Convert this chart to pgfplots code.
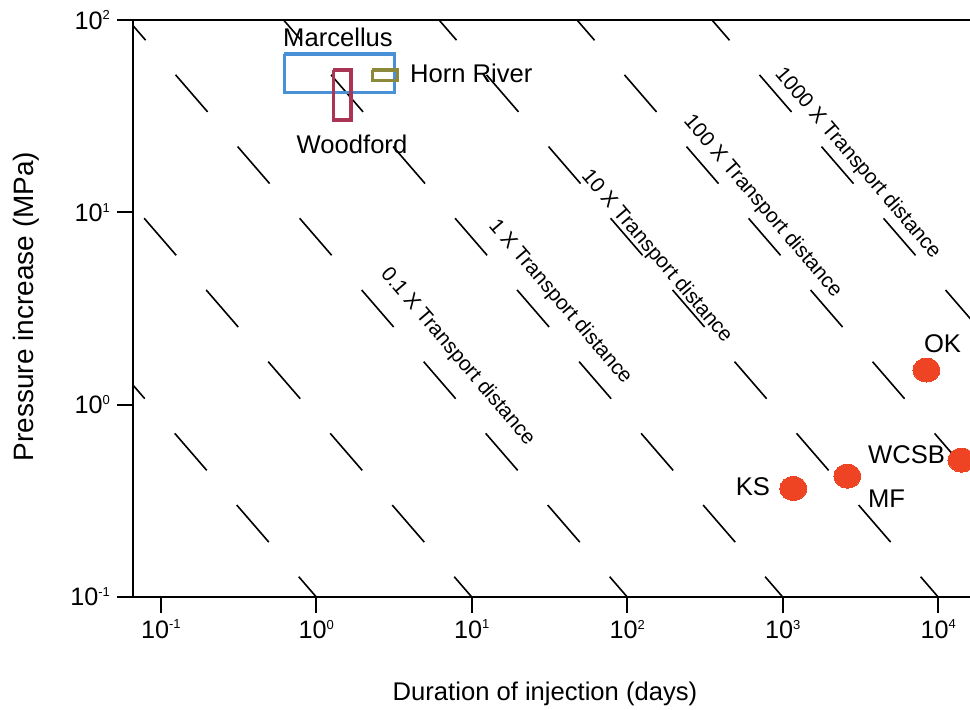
\documentclass[border=0pt]{standalone}
\usepackage{pgfplots}
\pgfplotsset{compat=1.18}
\usepackage{fontspec}
\setmainfont{Liberation Sans}
\definecolor{dotc}{RGB}{238,68,36}
\definecolor{marc}{RGB}{74,144,214}
\definecolor{wood}{RGB}{170,52,84}
\definecolor{horn}{RGB}{140,138,58}
\newcommand{\tp}[1]{10\raisebox{4.6pt}{\fontsize{6.5}{7}\selectfont #1}}
\begin{document}
\begin{tikzpicture}
\begin{axis}[
  xmode=log, ymode=log,
  scale only axis, width=423.5pt, height=288.5pt,
  xmin=0.06622, xmax=18590, ymin=0.1, ymax=100,
  xtick={0.1,1,10,100,1000,10000},
  xticklabels={\tp{-1},\tp{0},\tp{1},\tp{2},\tp{3},\tp{4}},
  ytick={0.1,1,10,100},
  yticklabels={\tp{-1},\tp{0},\tp{1},\tp{2}},
  xminorticks=false, yminorticks=false,
  xtick pos=bottom, ytick pos=left,
  tick align=outside, major tick length=8pt,
  tick style={line width=1pt, black},
  axis line style={line width=1pt},
  ticklabel style={font=\fontsize{12.6}{15}\selectfont},
  xlabel={Duration of injection (days)},
  ylabel={Pressure increase (MPa)},
  xlabel style={font=\fontsize{12.8}{15}\selectfont, at={([xshift=-5.75pt,yshift=-51.5pt]axis description cs:0.5,0)}, anchor=base},
  ylabel style={font=\fontsize{14}{16}\selectfont, at={([xshift=-49.5pt,yshift=1pt]axis description cs:0,0.5)}, anchor=base},
]
% diffusion lines (dashed), drawn from the bottom axis upward
\pgfplotsset{dl/.style={black, line width=0.8pt, dash pattern=on 24.5pt off 22.9pt, dash phase=11.1pt}}
\addplot[dl] coordinates {(1,0.1) (1e-4,547)};
\addplot[dl] coordinates {(10,0.1) (1e-3,547)};
\addplot[dl] coordinates {(100,0.1) (0.01,547)};
\addplot[dl] coordinates {(1000,0.1) (0.1,547)};
\addplot[dl] coordinates {(10000,0.1) (1,547)};
\addplot[dl] coordinates {(47.53,100) (77160,0.1)};
\addplot[dl] coordinates {(351.1,100) (569500,0.1)};
% shale plays
\addplot[marc, line width=1.65pt, line join=miter] coordinates {(0.624,66.56) (3.194,66.56) (3.194,41.98) (0.624,41.98) (0.624,66.56)};
\addplot[wood, line width=1.65pt, line join=miter] coordinates {(1.286,54.95) (1.672,54.95) (1.672,30.2) (1.286,30.2) (1.286,54.95)};
\addplot[horn, line width=1.65pt, line join=miter] coordinates {(2.292,54.95) (3.340,54.95) (3.340,48.34) (2.292,48.34) (2.292,54.95)};
% injection sites
\addplot[only marks, mark=*, mark size=6pt, mark options={xscale=1.125, fill=dotc, draw=dotc, line width=0pt}] coordinates {
  (1171,0.367) (2604,0.4253) (8405,1.514) (14130,0.515)};
% labels
\node[anchor=base, font=\fontsize{12.8}{15}\selectfont] at (axis cs:1.379,72.4) {Marcellus};
\node[anchor=base west, font=\fontsize{12.8}{15}\selectfont] at (axis cs:3.612,47.6) {Horn River};
\node[anchor=base, font=\fontsize{12.8}{15}\selectfont] at (axis cs:1.697,20.34) {Woodford};
\node[anchor=base, font=\fontsize{12.8}{15}\selectfont] at (axis cs:10670,1.877) {OK};
\node[anchor=base east, font=\fontsize{12.8}{15}\selectfont] at (axis cs:919.4,0.3388) {KS};
\node[anchor=base west, font=\fontsize{12.8}{15}\selectfont] at (axis cs:3191,0.2935) {MF};
\node[anchor=base east, font=\fontsize{12.8}{15}\selectfont] at (axis cs:12280,0.4969) {WCSB};
\node[rotate=-49.5, font=\fontsize{10.4}{12}\selectfont] at (axis cs:8.096,1.778) {0.1 X Transport distance};
\node[rotate=-49.5, font=\fontsize{10.4}{12}\selectfont] at (axis cs:36.95,3.417) {1 X Transport distance};
\node[rotate=-49.5, font=\fontsize{10.4}{12}\selectfont] at (axis cs:154.3,5.890) {10 X Transport distance};
\node[rotate=-49.5, font=\fontsize{10.4}{12}\selectfont] at (axis cs:741.8,10.72) {100 X Transport distance};
\node[rotate=-49.5, font=\fontsize{10.4}{12}\selectfont] at (axis cs:3029,17.94) {1000 X Transport distance};
\coordinate (SW) at (rel axis cs:0,0);
\coordinate (NE) at (rel axis cs:1,1);
\end{axis}
\pgfresetboundingbox
\path[use as bounding box] ([xshift=-66.5pt,yshift=-56pt]SW) rectangle ([xshift=-5pt,yshift=10pt]NE);
\end{tikzpicture}
\end{document}
